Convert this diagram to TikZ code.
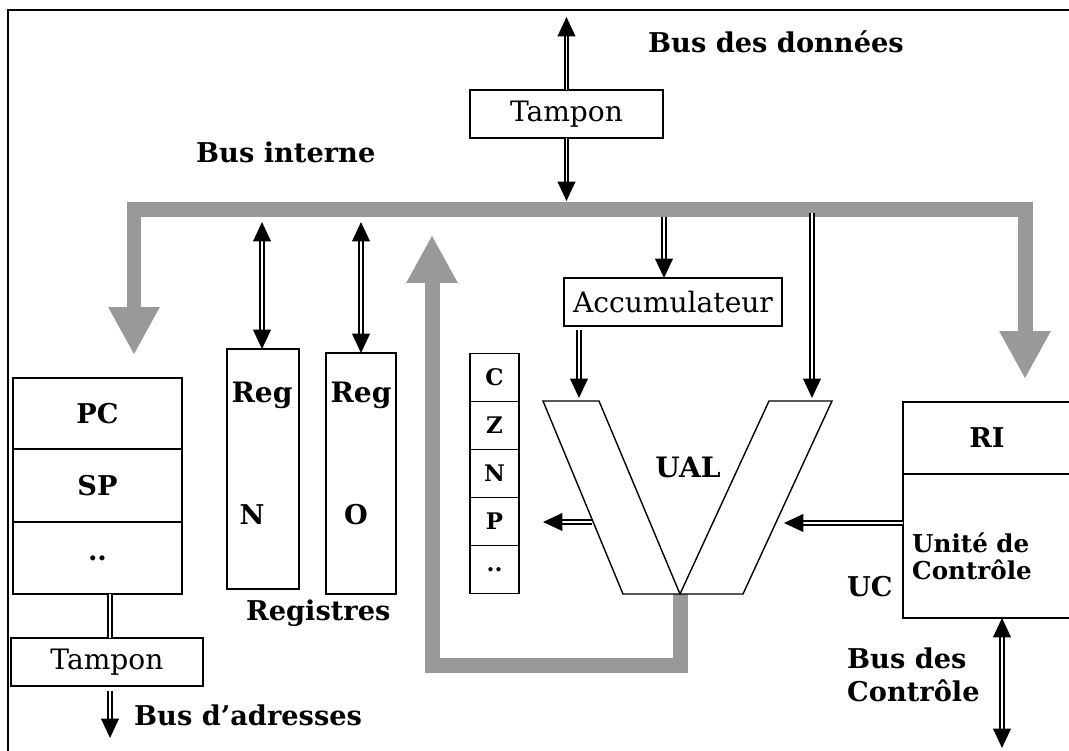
\documentclass[tikz,border=0pt]{standalone}
\usepackage{fontspec}
\setmainfont{DejaVu Serif}
\usepackage{tikz}
\usetikzlibrary{arrows.meta,positioning}
\definecolor{busgray}{RGB}{153,153,153}

\tikzset{
  box/.style={draw,thick,inner sep=0pt,outer sep=0pt},
  txt/.style={font=\fontsize{16}{19}\selectfont},
  lbl/.style={font=\fontsize{15.5}{19}\selectfont\bfseries},
  dbl/.style={double,double distance=1pt,line width=1.1pt},
  bus/.style={draw=busgray,line width=0.3cm},
  bh/.tip={Triangle[width=0.96cm,length=0.96cm]},
  >={Triangle[width=10pt,length=11pt]}
}

\begin{document}
\begin{tikzpicture}[x=0.02cm,y=-0.02cm]
\useasboundingbox (0,0) rectangle (1069,751);
\draw[line width=1.3pt] (1100,10) -- (8,10) -- (8,790);

% Bus interne
\draw[bus,bh-bh] (134,355) |- (1025,209.5) -- (1025,379);
\draw[bus,-bh] (680,594) -- (680,665.5) -| (432,235);

% Tampon (donnees)
\node[box,txt,minimum width=3.86cm,minimum height=0.96cm] (tampD) at (566.5,114) {Tampon};
\coordinate (dtop) at (566.5,17);
\coordinate (dbot) at (566.5,201);
\draw[dbl,->] (tampD.north) -- (dtop);
\draw[dbl,->] (tampD.south) -- (dbot);

% PC, SP
\node[box,lbl,minimum width=3.38cm,minimum height=1.42cm] (pc) at (97.5,413.5) {PC};
\node[box,lbl,minimum width=3.38cm,minimum height=1.46cm] (sp) at (97.5,485.5) {SP};
\node[box,lbl,minimum width=3.38cm,minimum height=1.44cm] (pcx) at (97.5,558) {..};
\node[box,txt,minimum width=3.84cm,minimum height=0.96cm] (tampA) at (107,662) {Tampon};
\coordinate (aout) at (110,738);
\draw[dbl] (pcx.south -| aout) -- (tampA.north -| aout);
\draw[dbl,->] (tampA.south -| aout) ++(0,5) -- (aout);

% Registres
\node[box,minimum width=1.44cm,minimum height=4.8cm] (regN) at (263,469) {};
\node[box,minimum width=1.4cm,minimum height=4.82cm] (regO) at (361,473.5) {};
\node[lbl,font=\fontsize{16}{19}\selectfont\bfseries] (regNa) at (262,395) {Reg};
\node[lbl] (regNb) at (252,515) {N};
\node[lbl,font=\fontsize{16}{19}\selectfont\bfseries] (regOa) at (361,395) {Reg};
\node[lbl] (regOb) at (356,515) {O};
\coordinate (nin) at (262,222);
\coordinate (oin) at (361,222);
\draw[dbl,<->] (nin) -- (regN.north -| nin);
\draw[dbl,<->] (oin) -- (regO.north -| oin);

% Indicateurs
\foreach \f [count=\i] in {C,Z,N,P,..}
  \node[box,lbl,font=\fontsize{13}{16}\selectfont\bfseries,minimum width=0.98cm,minimum height=0.96cm] (f\i) at (494.5,329.5+48*\i) {\f};

% Accumulateur
\node[box,txt,minimum width=4.36cm,minimum height=0.96cm] (acc) at (673,302) {Accumulateur};
\coordinate (ain) at (664,217);
\coordinate (aua) at (579,398);
\coordinate (bua) at (812,398);
\coordinate (bin) at (812,213);
\draw[dbl,->] (ain) -- (ain |- acc.north);
\draw[dbl,->] (aua |- acc.south) ++(0,4) -- (aua);
\draw[dbl,->] (bin) -- (bua);

% UAL
\draw[thick] (543,401) -- (599,401) -- (680,594) -- (769,401) -- (832,401)
  -- (743,594) -- (623,594) -- cycle;
\node[lbl,font=\fontsize{16}{19}\selectfont\bfseries] (ual) at (688,467) {UAL};
\coordinate (uflag) at (592,522);
\coordinate (fin) at (543,522);
\draw[dbl,->] (uflag) -- (fin);

% RI et UC
\node[box,lbl,minimum width=3.36cm,minimum height=1.44cm] (ri) at (987,438) {RI};
\node[box,minimum width=3.36cm,minimum height=2.88cm] (uc) at (987,546) {};
\node[anchor=west,align=left,font=\fontsize{14}{15.5}\selectfont\bfseries] (ucname) at (906,556) {Unité de\\Contrôle};
\coordinate (ucual) at (784,523);
\draw[dbl,->] (uc.west |- ucual) -- (ucual);
\coordinate (cbus) at (1002,748);
\draw[dbl,<->] (uc.south -| cbus) -- (cbus);

% Labels
\node[lbl,anchor=west] (lbdata) at (642,42) {Bus des données};
\node[lbl,anchor=west] (lbint) at (190,152) {Bus interne};
\node[lbl,anchor=west] (lbreg) at (240,613) {Registres};
\node[lbl,anchor=west] (lbadr) at (128,715) {Bus d’adresses};
\node[lbl,anchor=west] (lbuc) at (841,587) {UC};
\node[lbl,anchor=west,align=left] (lbctl) at (841,675) {Bus des\\Contrôle};
\end{tikzpicture}
\end{document}
